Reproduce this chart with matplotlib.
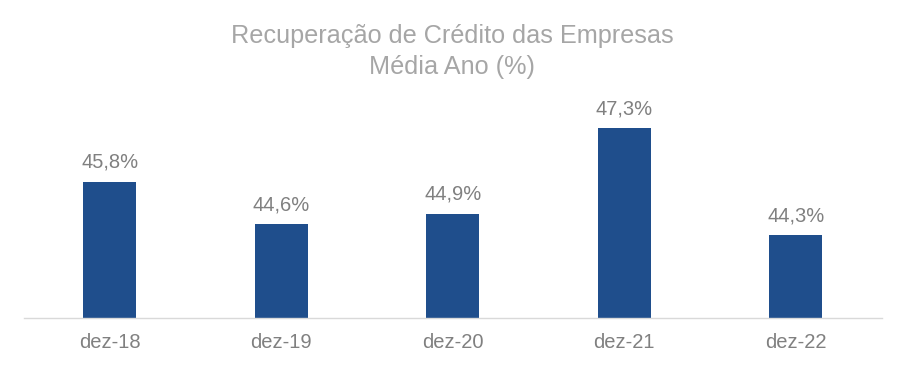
import matplotlib
matplotlib.use("Agg")
import matplotlib.pyplot as plt

categories = ["dez-18", "dez-19", "dez-20", "dez-21", "dez-22"]
values = [45.8, 44.6, 44.9, 47.3, 44.3]
labels = ["45,8%", "44,6%", "44,9%", "47,3%", "44,3%"]
title_lines = ["Recuperação de Crédito das Empresas", "Média Ano (%)"]

plt.rcParams['font.family'] = ['Liberation Sans', 'DejaVu Sans']

fig = plt.figure(figsize=(9.06, 3.69), dpi=100)
ax = fig.add_axes([24/906, 1 - 318/369, 857.5/906, (318 - 90)/369])

x = range(len(categories))
ymin = 41.98
bars = ax.bar(x, [v - ymin for v in values], bottom=ymin, width=0.31,
              color="#1F4E8C", zorder=2)
ax.set_xlim(-0.5, len(categories) - 0.5)
ax.set_ylim(ymin, ymin + (318 - 90) / 35.7)

for xi, v, lab in zip(x, values, labels):
    ax.annotate(lab, (xi, v), xytext=(0, 10), textcoords="offset points",
                ha="center", va="baseline", fontsize=14.5, color="#808080")

ax.set_xticks(list(x))
ax.set_xticklabels(categories, fontsize=14.5, color="#808080")
ax.tick_params(axis="x", length=0, pad=11)
ax.set_yticks([])
for s in ["top", "right", "left"]:
    ax.spines[s].set_visible(False)
ax.spines["bottom"].set_color("#d9d9d9")
ax.spines["bottom"].set_linewidth(1)

fig.text(452/906, 1 - 43/369, title_lines[0], ha="center", va="baseline",
         fontsize=18.2, color="#a6a6a6")
fig.text(452/906, 1 - 74/369, title_lines[1], ha="center", va="baseline",
         fontsize=18.2, color="#a6a6a6")

fig.savefig("out.png", dpi=100)
